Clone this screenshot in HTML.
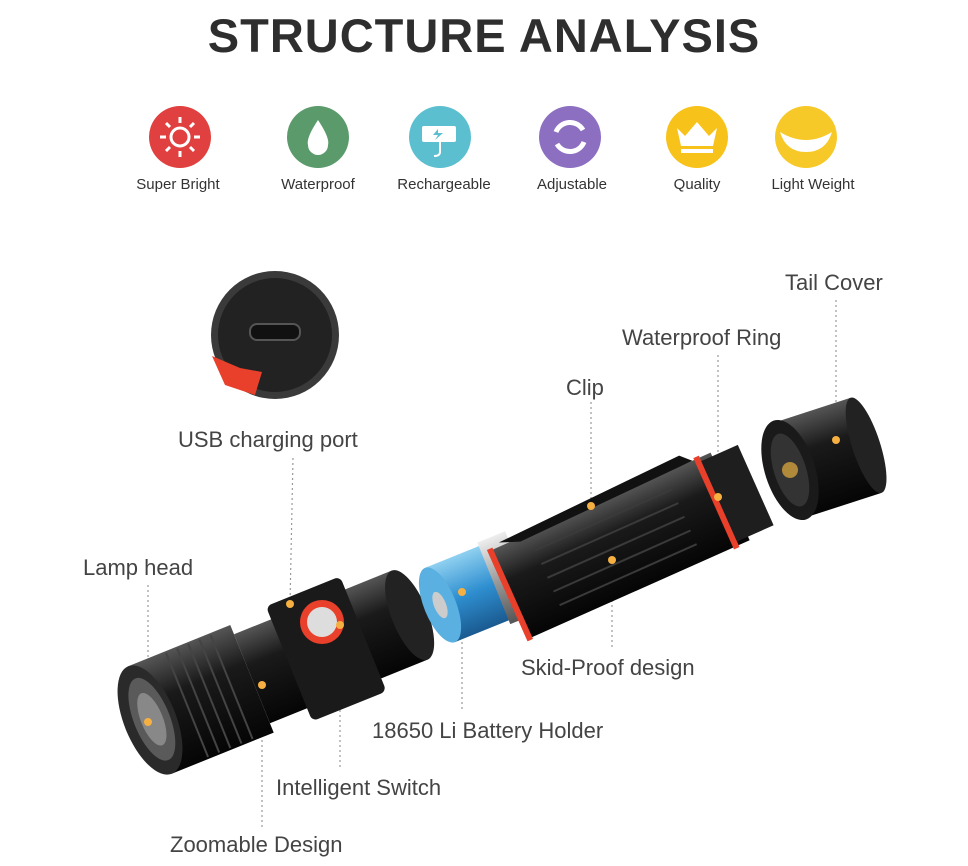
<!DOCTYPE html>
<html><head><meta charset="utf-8"><style>
html,body{margin:0;padding:0;background:#fff;}
body{width:968px;height:866px;position:relative;overflow:hidden;font-family:"Liberation Sans",sans-serif;}
.t{position:absolute;color:#444;font-size:22px;white-space:nowrap;}
.s{position:absolute;color:#333;font-size:15px;white-space:nowrap;text-align:center;width:120px;}
h1{position:absolute;left:0;width:968px;top:8px;margin:0;text-align:center;font-size:47px;font-weight:bold;color:#2e2e2e;letter-spacing:1px;}
</style></head><body>
<h1>STRUCTURE ANALYSIS</h1>
<svg width="968" height="866" style="position:absolute;left:0;top:0">
<defs>
<linearGradient id="blk" x1="0" y1="0" x2="0" y2="1"><stop offset="0" stop-color="#555"/><stop offset=".35" stop-color="#1a1a1a"/><stop offset="1" stop-color="#050505"/></linearGradient>
<linearGradient id="blu" x1="0" y1="0" x2="0" y2="1"><stop offset="0" stop-color="#8fd0f0"/><stop offset=".5" stop-color="#2f8fd0"/><stop offset="1" stop-color="#1a5a90"/></linearGradient>
<linearGradient id="sil" x1="0" y1="0" x2="0" y2="1"><stop offset="0" stop-color="#eee"/><stop offset=".5" stop-color="#999"/><stop offset="1" stop-color="#555"/></linearGradient>
</defs>
<!-- icons -->
<circle cx="180" cy="137" r="31" fill="#e0403f"/>
<circle cx="180" cy="137" r="9" fill="none" stroke="#fff" stroke-width="3"/>
<g stroke="#fff" stroke-width="3"><line x1="180" y1="117" x2="180" y2="123"/><line x1="180" y1="151" x2="180" y2="157"/><line x1="160" y1="137" x2="166" y2="137"/><line x1="194" y1="137" x2="200" y2="137"/><line x1="166" y1="123" x2="170" y2="127"/><line x1="190" y1="147" x2="194" y2="151"/><line x1="194" y1="123" x2="190" y2="127"/><line x1="166" y1="151" x2="170" y2="147"/></g>
<circle cx="318" cy="137" r="31" fill="#5b9a6b"/>
<path d="M318 120 Q330 138 328 145 A10 10 0 0 1 308 145 Q306 138 318 120Z" fill="#fff"/>
<circle cx="440" cy="137" r="31" fill="#5bbfcf"/>
<rect x="422" y="126" width="34" height="16" rx="2" fill="#fff"/><path d="M438 129 l-5 6 h5 l-3 5 8-7 h-5z" fill="#5bbfcf"/><path d="M440 142 v10 q0 4 -6 4" stroke="#fff" stroke-width="2" fill="none"/>
<circle cx="570" cy="137" r="31" fill="#8c6fc0"/>
<path d="M556 132 A15 15 0 0 1 583 130" stroke="#fff" stroke-width="5" fill="none"/><path d="M584 142 A15 15 0 0 1 557 144" stroke="#fff" stroke-width="5" fill="none"/>
<circle cx="697" cy="137" r="31" fill="#f7c21a"/>
<path d="M677 128 l8 8 12-14 12 14 8-8 -4 18 h-32z" fill="#fff"/><rect x="681" y="149" width="32" height="4" fill="#fff"/>
<circle cx="806" cy="137" r="31" fill="#f7c928"/>
<path d="M780 132 Q806 148 832 132 Q826 152 806 152 Q786 152 780 132Z" fill="#fff"/>

<!-- inset -->
<circle cx="275" cy="335" r="64" fill="#3a3a3a"/>
<circle cx="275" cy="335" r="57" fill="#222"/>
<rect x="250" y="324" width="50" height="16" rx="7" fill="#111" stroke="#555" stroke-width="2"/>
<path d="M212 356 L240 368 L262 372 L255 395 L225 385 Z" fill="#e8402a"/>

<!-- leaders -->
<g stroke="#999" stroke-width="1.2" stroke-dasharray="2,3" fill="none">
<line x1="836" y1="300" x2="836" y2="440"/>
<line x1="718" y1="355" x2="718" y2="495"/>
<line x1="591" y1="402" x2="591" y2="505"/>
<line x1="293" y1="458" x2="290" y2="604"/>
<line x1="148" y1="585" x2="148" y2="722"/>
<line x1="612" y1="560" x2="612" y2="650"/>
<line x1="462" y1="592" x2="462" y2="712"/>
<line x1="340" y1="625" x2="340" y2="770"/>
<line x1="262" y1="685" x2="262" y2="828"/>
</g>

<!-- lamp head -->
<g transform="translate(150,720) rotate(-22)">
<rect x="0" y="-58" width="110" height="116" fill="url(#blk)"/>
<g stroke="#444" stroke-width="2"><line x1="40" y1="-56" x2="40" y2="56"/><line x1="52" y1="-56" x2="52" y2="56"/><line x1="64" y1="-56" x2="64" y2="56"/><line x1="76" y1="-56" x2="76" y2="56"/><line x1="88" y1="-56" x2="88" y2="56"/></g>
<rect x="110" y="-48" width="170" height="96" fill="url(#blk)"/>
<rect x="150" y="-62" width="80" height="124" rx="6" fill="#1a1a1a"/>
<ellipse cx="280" cy="0" rx="18" ry="48" fill="#222"/>
<ellipse cx="0" cy="0" rx="26" ry="58" fill="#2a2a2a"/>
<ellipse cx="2" cy="0" rx="18" ry="44" fill="#5a5a5a"/>
<ellipse cx="2" cy="0" rx="11" ry="28" fill="#888"/>
</g>
<circle cx="322" cy="622" r="22" fill="#e8402a"/><circle cx="322" cy="622" r="15" fill="#ddd"/>

<!-- battery -->
<g transform="translate(440,605) rotate(-22)">
<rect x="0" y="-40" width="60" height="80" fill="url(#blu)"/>
<rect x="58" y="-44" width="30" height="88" fill="url(#sil)"/>
<ellipse cx="0" cy="0" rx="16" ry="40" fill="#5ab0e0"/>
<ellipse cx="0" cy="0" rx="6" ry="14" fill="#ccc"/>
</g>
<!-- main body -->
<g transform="translate(520,590) rotate(-24)">
<rect x="-10" y="-48" width="240" height="96" fill="url(#blk)"/>
<g stroke="#3a3a3a" stroke-width="2"><line x1="30" y1="-30" x2="180" y2="-30"/><line x1="30" y1="-15" x2="180" y2="-15"/><line x1="30" y1="0" x2="180" y2="0"/><line x1="30" y1="15" x2="180" y2="15"/><line x1="30" y1="30" x2="180" y2="30"/></g>
<rect x="-14" y="-50" width="6" height="100" fill="#e8402a"/>
<rect x="212" y="-50" width="6" height="100" fill="#e8402a"/>
<rect x="218" y="-44" width="40" height="88" fill="#1e1e1e"/>
<path d="M0 -52 L200 -58 L210 -48 L20 -44 Z" fill="#111"/>
</g>
<!-- tail -->
<g transform="translate(790,470) rotate(-18)">
<rect x="0" y="-50" width="80" height="100" fill="url(#blk)"/>
<ellipse cx="80" cy="0" rx="14" ry="50" fill="#222"/>
<ellipse cx="0" cy="0" rx="25" ry="52" fill="#1a1a1a"/>
<ellipse cx="0" cy="0" rx="16" ry="38" fill="#333"/>
<circle cx="0" cy="0" r="8" fill="#b08a3a"/>
</g>

<!-- dots -->
<g fill="#f5b041">
<circle cx="836" cy="440" r="4"/><circle cx="718" cy="497" r="4"/><circle cx="591" cy="506" r="4"/>
<circle cx="290" cy="604" r="4"/><circle cx="148" cy="722" r="4"/><circle cx="612" cy="560" r="4"/>
<circle cx="462" cy="592" r="4"/><circle cx="340" cy="625" r="4"/><circle cx="262" cy="685" r="4"/>
</g>
</svg>
<div class="s" style="left:118px;top:176px">Super Bright</div>
<div class="s" style="left:258px;top:176px">Waterproof</div>
<div class="s" style="left:384px;top:176px">Rechargeable</div>
<div class="s" style="left:512px;top:176px">Adjustable</div>
<div class="s" style="left:637px;top:176px">Quality</div>
<div class="s" style="left:753px;top:176px">Light Weight</div>
<div class="t" style="left:785px;top:270px">Tail Cover</div>
<div class="t" style="left:622px;top:325px">Waterproof Ring</div>
<div class="t" style="left:566px;top:375px">Clip</div>
<div class="t" style="left:178px;top:427px">USB charging port</div>
<div class="t" style="left:83px;top:555px">Lamp head</div>
<div class="t" style="left:521px;top:655px">Skid-Proof design</div>
<div class="t" style="left:372px;top:718px">18650 Li Battery Holder</div>
<div class="t" style="left:276px;top:775px">Intelligent Switch</div>
<div class="t" style="left:170px;top:832px">Zoomable Design</div>
</body></html>
